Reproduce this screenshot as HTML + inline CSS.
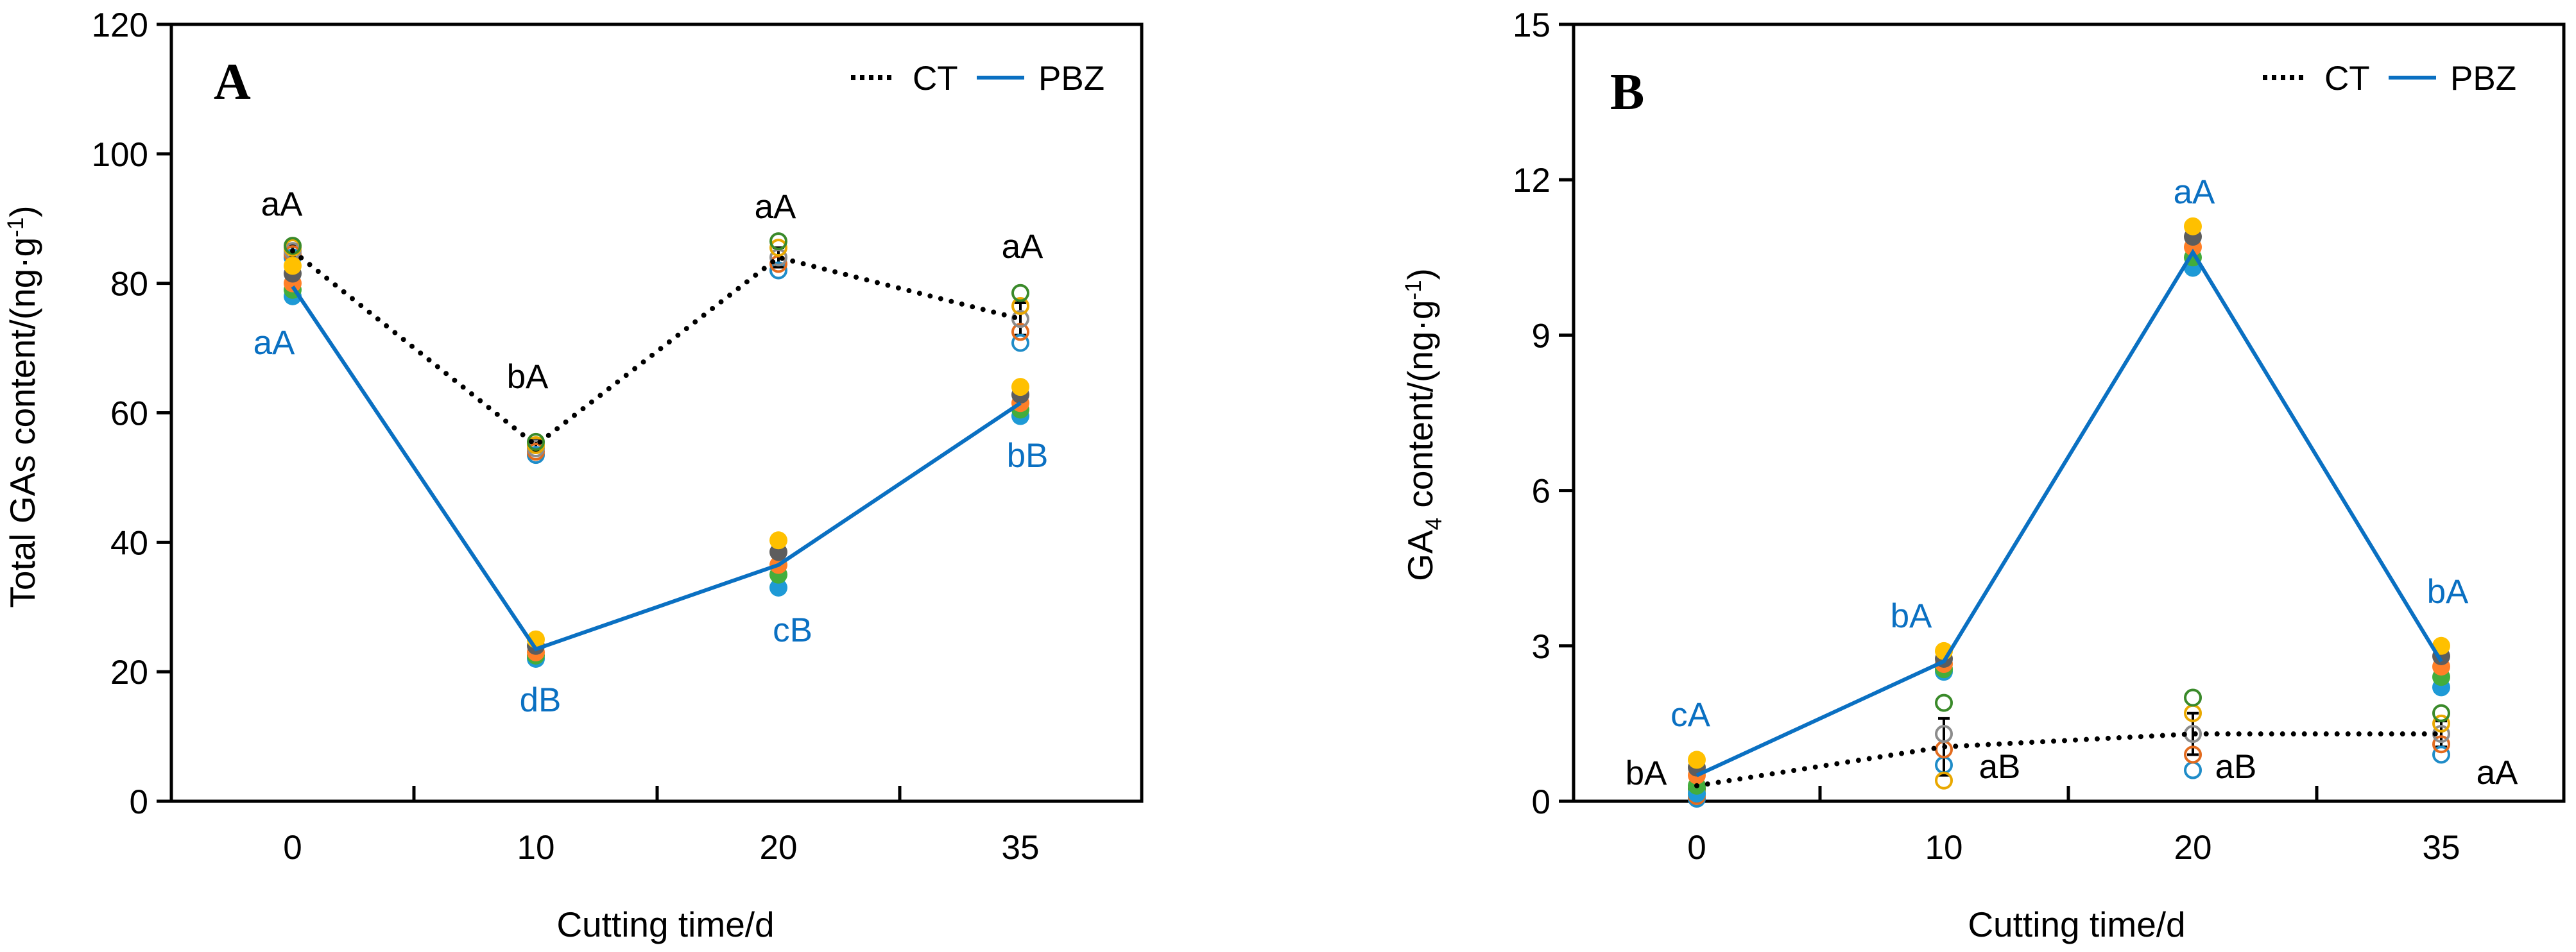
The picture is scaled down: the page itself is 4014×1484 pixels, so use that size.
<!DOCTYPE html>
<html><head><meta charset="utf-8"><style>
html,body{margin:0;padding:0;background:#fff;}
svg{display:block;font-family:"Liberation Sans",Arial,sans-serif;}
</style></head><body>
<svg id="chart" width="4014" height="1484" viewBox="0 0 4014 1484" xmlns="http://www.w3.org/2000/svg">
<rect width="4014" height="1484" fill="#fff"/>
<g id="pA"></g>
<g id="pB"></g>
</svg>
<script>
const categories = ["0","10","20","35"];
const dotColors = ["#1e9ad6","#43ad3c","#ff7f27","#5d5d5d","#ffc000"];
const openColors = ["#1f8cc8","#e26b1e","#8c8c8c","#e9a800","#3a8a2a"];
// Panel A
const aTicks = [0,20,40,60,80,100,120];
const aCT = [85,55,84,74.5];
const aPBZ = [79.5,23.5,36.5,61.5];
const aCTpts = [[84,84.5,85,85.5,85.8],[53.5,54,54.5,55,55.5],[82,83,84,85.5,86.5],[70.8,72.5,74.5,76.5,78.5]];
const aPBZpts = [[78,79,80,81.5,82.7],[22,22.5,23,24,25],[33,35,36.5,38.5,40.3],[59.5,60.5,61.5,62.8,64]];
const aCTerr = [[84,86],[54,56],[82.5,85.5],[72,77]];
const aLabTop = ["aA","bA","aA","aA"];
const aLabBot = ["aA","dB","cB","bB"];
// Panel B
const bTicks = [0,3,6,9,12,15];
const bCT = [0.3,1.05,1.3,1.3];
const bPBZ = [0.5,2.7,10.6,2.7];
const bCTpts = [[0.05,0.1,0.15,0.2,0.25],[0.7,1.0,1.3,0.4,1.9],[0.6,0.9,1.3,1.7,2.0],[0.9,1.1,1.3,1.5,1.7]];
const bPBZpts = [[0.15,0.3,0.5,0.65,0.8],[2.5,2.55,2.65,2.75,2.9],[10.3,10.5,10.7,10.9,11.1],[2.2,2.4,2.6,2.8,3.0]];
const bCTerr = [[0.2,0.4],[0.5,1.6],[0.9,1.7],[1.05,1.55]];
const bLabPBZ = ["cA","bA","aA","bA"];
const bLabCT = ["bA","aB","aB","aA"];

const NS="http://www.w3.org/2000/svg";
function mk(parent,tag,attrs,text){const e=document.createElementNS(NS,tag);for(const k in attrs)e.setAttribute(k,attrs[k]);if(text!==undefined)e.textContent=text;parent.appendChild(e);return e;}

function panel(g,cfg){
  const L=cfg.left,R=cfg.right,T=38,B=1249;
  const y=v=>B-(v-cfg.min)/(cfg.max-cfg.min)*(B-T);
  const x=i=>cfg.cx[i];
  let e=mk(g,"rect",{x:L,y:T,width:R-L,height:B-T,fill:"none",stroke:"#000","stroke-width":5});
  
  
  cfg.ticks.forEach(t=>{
    let l=mk(g,"line",{x1:L-23,x2:L,y1:y(t),y2:y(t),stroke:"#000","stroke-width":5});
    
    
    let tx=mk(g,"text",{x:L-36,y:y(t)+19,"font-size":53,"text-anchor":"end"},String(t));
    
    
  });
  cfg.minor.forEach(mx=>{
    let l=mk(g,"line",{x1:mx,x2:mx,y1:B,y2:B-24,stroke:"#000","stroke-width":5});
    
    
  });
  categories.forEach((c,i)=>{
    let tx=mk(g,"text",{x:x(i),y:1339,"font-size":53,"text-anchor":"middle"},c);
    
    
  });
  let xl=mk(g,"text",{x:cfg.xlx,y:1460,"font-size":55,"text-anchor":"middle"},"Cutting time/d");
  
  
  let yl=mk(g,"text",{x:0,y:0,"font-size":55,"text-anchor":"middle",transform:`translate(${cfg.ylx},${cfg.yly}) rotate(-90)`});
  
  
  cfg.ylabel(yl);
  let pl=mk(g,"text",{x:cfg.plx,y:cfg.ply,"font-size":80,"font-weight":"bold","font-family":"Liberation Serif, serif"},cfg.letter);
  
  
  const lg=mk(g,"g",{});
  
  
  mk(lg,"line",{x1:cfg.lgx,x2:cfg.lgx+70,y1:121,y2:121,stroke:"#000","stroke-width":8,"stroke-dasharray":"7 7"});
  let t1=mk(lg,"text",{x:cfg.lgx+96,y:140,"font-size":53},"CT");
  
  
  mk(lg,"line",{x1:cfg.lgx+196,x2:cfg.lgx+270,y1:121,y2:121,stroke:"#0a70c2","stroke-width":6});
  let t2=mk(lg,"text",{x:cfg.lgx+292,y:140,"font-size":53},"PBZ");
  
  
  cfg.err.forEach((er,i)=>{
    let l=mk(g,"path",{d:`M${x(i)},${y(er[0])}V${y(er[1])}M${x(i)-9},${y(er[0])}H${x(i)+9}M${x(i)-9},${y(er[1])}H${x(i)+9}`,stroke:"#000","stroke-width":4,fill:"none"});
    
    
  });
  cfg.ctPts.forEach((arr,i)=>arr.forEach((v,j)=>{
    let c=mk(g,"circle",{cx:x(i),cy:y(v),r:12,fill:"none",stroke:openColors[j],"stroke-width":4});
    
    
  }));
  cfg.pbzPts.forEach((arr,i)=>arr.forEach((v,j)=>{
    let c=mk(g,"circle",{cx:x(i),cy:y(v),r:14,fill:dotColors[j]});
    
    
  }));
  let ctl=mk(g,"polyline",{points:cfg.ct.map((v,i)=>x(i)+","+y(v)).join(" "),fill:"none",stroke:"#000","stroke-width":8,"stroke-dasharray":"0 17","stroke-linecap":"round"});
  
  
  let pbl=mk(g,"polyline",{points:cfg.pbz.map((v,i)=>x(i)+","+y(v)).join(" "),fill:"none",stroke:"#0a70c2","stroke-width":6});
  
  
  cfg.labels.forEach(lb=>{
    let t=mk(g,"text",{x:lb[0],y:lb[1],"font-size":53,"text-anchor":"middle",fill:lb[3]},lb[2]);
    
    
  });
}

const cxA=[456,835,1213,1590], cxB=[2644,3029,3417,3804];
panel(document.getElementById("pA"),{
  left:267,right:1779,min:0,max:120,ticks:aTicks,minor:[645,1024,1402],cx:cxA,
  xlx:1037,ylx:54,yly:634,
  ylabel:t=>{t.appendChild(document.createTextNode("Total GAs content/(ng·g"));mk(t,"tspan",{dy:-18,"font-size":35},"-1");mk(t,"tspan",{dy:18},")");},
  plx:333,ply:154,letter:"A",lgx:1326,
  err:aCTerr,ctPts:aCTpts,pbzPts:aPBZpts,ct:aCT,pbz:aPBZ,
  labels:[[439,336,aLabTop[0],"#000"],[822,605,aLabTop[1],"#000"],[1208,340,aLabTop[2],"#000"],[1593,402,aLabTop[3],"#000"],
          [427,552,aLabBot[0],"#0a70c2"],[842,1109,aLabBot[1],"#0a70c2"],[1235,1000,aLabBot[2],"#0a70c2"],[1601,728,aLabBot[3],"#0a70c2"]]
});
panel(document.getElementById("pB"),{
  left:2452,right:3995,min:0,max:15,ticks:bTicks,minor:[2836,3223,3610],cx:cxB,
  xlx:3236,ylx:2232,yly:662,
  ylabel:t=>{t.appendChild(document.createTextNode("GA"));mk(t,"tspan",{dy:14,"font-size":35},"4");mk(t,"tspan",{dy:-14}," content/(ng·g");mk(t,"tspan",{dy:-18,"font-size":35},"-1");mk(t,"tspan",{dy:18},")");},
  plx:2509,ply:170,letter:"B",lgx:3526,
  err:bCTerr,ctPts:bCTpts,pbzPts:bPBZpts,ct:bCT,pbz:bPBZ,
  labels:[[2634,1132,bLabPBZ[0],"#0a70c2"],[2978,978,bLabPBZ[1],"#0a70c2"],[3419,317,bLabPBZ[2],"#0a70c2"],[3814,940,bLabPBZ[3],"#0a70c2"],
          [2565,1223,bLabCT[0],"#000"],[3116,1213,bLabCT[1],"#000"],[3484,1213,bLabCT[2],"#000"],[3891,1222,bLabCT[3],"#000"]]
});
</script>
</body></html>
